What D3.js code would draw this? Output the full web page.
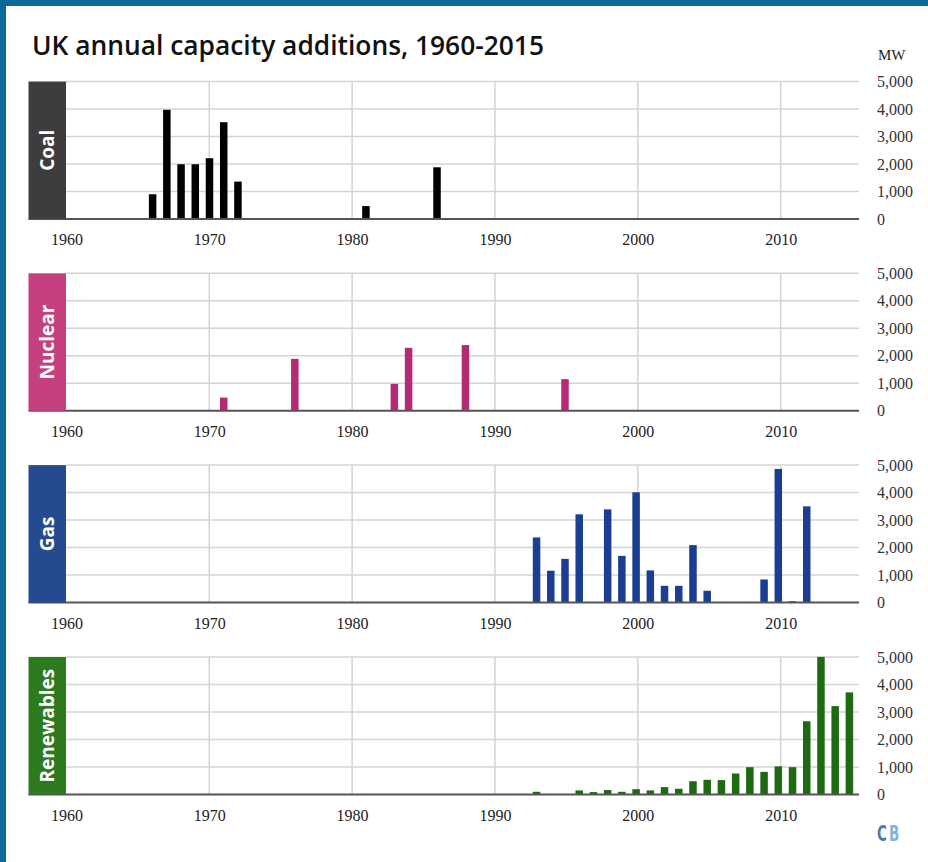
<!DOCTYPE html>
<html>
<head>
<meta charset="utf-8">
<script src="https://cdn.jsdelivr.net/npm/d3@7"></script>
<style>
  body { margin: 0; background: #fff; }
  svg { display: block; }
</style>
</head>
<body>
<script>
// Data (MW added per year)
const coal = [[1966, 900], [1967, 3970], [1968, 1990], [1969, 1990], [1970, 2210], [1971, 3520], [1972, 1360], [1981, 470], [1986, 1880]];
const nuclear = [[1971, 480], [1976, 1890], [1983, 980], [1984, 2290], [1988, 2390], [1995, 1150]];
const gas = [[1993, 2370], [1994, 1160], [1995, 1590], [1996, 3210], [1998, 3390], [1999, 1700], [2000, 4010], [2001, 1170], [2002, 610], [2003, 610], [2004, 2090], [2005, 430], [2009, 840], [2010, 4860], [2011, 50], [2012, 3500]];
const renewables = [[1993, 95], [1996, 145], [1997, 85], [1998, 160], [1999, 95], [2000, 190], [2001, 145], [2002, 265], [2003, 205], [2004, 480], [2005, 530], [2006, 520], [2007, 760], [2008, 990], [2009, 820], [2010, 1020], [2011, 990], [2012, 2660], [2013, 5000], [2014, 3210], [2015, 3710]];

const panelNames = ["Coal", "Nuclear", "Gas", "Renewables"];
const yearTicks = [1960, 1970, 1980, 1990, 2000, 2010];
const yTicks = [0, 1000, 2000, 3000, 4000, 5000];

const panels = [
  {name: panelNames[0], data: coal, box: "#3d3d3d", bar: "#000000"},
  {name: panelNames[1], data: nuclear, box: "#c4407f", bar: "#b52a72"},
  {name: panelNames[2], data: gas, box: "#244a8f", bar: "#1b3e93"},
  {name: panelNames[3], data: renewables, box: "#2e7a1e", bar: "#1e6a12"}
];

const width = 928, height = 862;
const svg = d3.select("body").append("svg")
  .attr("width", width).attr("height", height);

// frame
svg.append("rect").attr("x", 0).attr("y", 0).attr("width", width).attr("height", 6).attr("fill", "#086a96");
svg.append("rect").attr("x", 0).attr("y", 0).attr("width", 6).attr("height", height).attr("fill", "#086a96");

svg.append("text")
  .attr("x", 32).attr("y", 55)
  .attr("font-family", "'Open Sans', sans-serif")
  .attr("font-weight", 600)
  .attr("font-size", 27)
  .attr("textLength", 512)
  .attr("lengthAdjust", "spacingAndGlyphs")
  .attr("fill", "#111")
  .text("UK annual capacity additions, 1960-2015");

svg.append("text")
  .attr("x", 878).attr("y", 60)
  .attr("font-family", "'Liberation Serif', serif")
  .attr("font-size", 15)
  .attr("fill", "#222")
  .text("MW");

// bars and grid use slightly different spacing in the original
const xBar = d3.scaleLinear().domain([1960, 2015]).range([67.3, 849.4]);
const xGrid = d3.scaleLinear().domain([1960, 2010]).range([66.4, 780.7]);
const plotLeft = 66, plotRight = 859, boxLeft = 28.5;
const panelH = 137.5;
const barW = 7.5;

panels.forEach((p, i) => {
  const top = 81.5 + 191.8 * i;
  const base = top + panelH;
  const y = d3.scaleLinear().domain([0, 5000]).range([base, top]);
  const g = svg.append("g").attr("class", p.name);

  // horizontal grid
  g.selectAll(".hgrid").data(yTicks.slice(1)).enter().append("line")
    .attr("x1", plotLeft).attr("x2", plotRight)
    .attr("y1", d => y(d)).attr("y2", d => y(d))
    .attr("stroke", "#d4d4d4").attr("stroke-width", 1.5);

  // vertical grid
  g.selectAll(".vgrid").data(yearTicks.slice(1)).enter().append("line")
    .attr("x1", d => xGrid(d)).attr("x2", d => xGrid(d))
    .attr("y1", top).attr("y2", base)
    .attr("stroke", "#d4d4d4").attr("stroke-width", 1.5);

  // bars
  g.selectAll(".bar").data(p.data).enter().append("rect")
    .attr("x", d => xBar(d[0]) - barW / 2)
    .attr("width", barW)
    .attr("y", d => y(d[1]))
    .attr("height", d => base - y(d[1]))
    .attr("fill", p.bar);

  // baseline
  g.append("line")
    .attr("x1", boxLeft).attr("x2", plotRight)
    .attr("y1", base).attr("y2", base)
    .attr("stroke", "#555").attr("stroke-width", 2);

  // label box
  g.append("rect")
    .attr("x", boxLeft).attr("y", top)
    .attr("width", plotLeft - boxLeft).attr("height", panelH)
    .attr("fill", p.box);
  g.append("text")
    .attr("transform", `translate(${(boxLeft + plotLeft) / 2 + 7},${top + panelH / 2}) rotate(-90)`)
    .attr("text-anchor", "middle")
    .attr("font-family", "'Open Sans', sans-serif")
    .attr("font-weight", 700)
    .attr("font-size", 19)
    .attr("fill", "#fff")
    .text(p.name);

  // y axis labels
  const yAxis = d3.axisRight(y).tickValues(yTicks).tickFormat(d3.format(",")).tickSize(0).tickPadding(0);
  const ya = g.append("g").attr("transform", `translate(877,0)`).call(yAxis);
  ya.select(".domain").remove();
  ya.selectAll("text")
    .attr("font-family", "'Liberation Serif', serif")
    .attr("font-size", 16)
    .attr("fill", "#333");

  // x axis labels
  const xAxis = d3.axisBottom(xGrid).tickValues(yearTicks).tickFormat(d3.format("d")).tickSize(0).tickPadding(0);
  const xa = g.append("g").attr("transform", `translate(0,${base + 15})`).call(xAxis);
  xa.select(".domain").remove();
  xa.selectAll("text")
    .attr("font-family", "'Liberation Serif', serif")
    .attr("font-size", 16)
    .attr("fill", "#222");
});

// CB logo, squeezed horizontally
const logoLetters = [["C", 877, "#4f7aa6"], ["B", 889, "#7db6e2"]];
svg.selectAll(".logo").data(logoLetters).enter().append("text")
  .attr("transform", d => `translate(${d[1]},841) scale(0.68,1)`)
  .attr("font-family", "'DejaVu Sans Condensed', 'DejaVu Sans', sans-serif")
  .attr("font-weight", 700)
  .attr("font-size", 22)
  .attr("fill", d => d[2])
  .text(d => d[0]);
</script>
</body>
</html>
